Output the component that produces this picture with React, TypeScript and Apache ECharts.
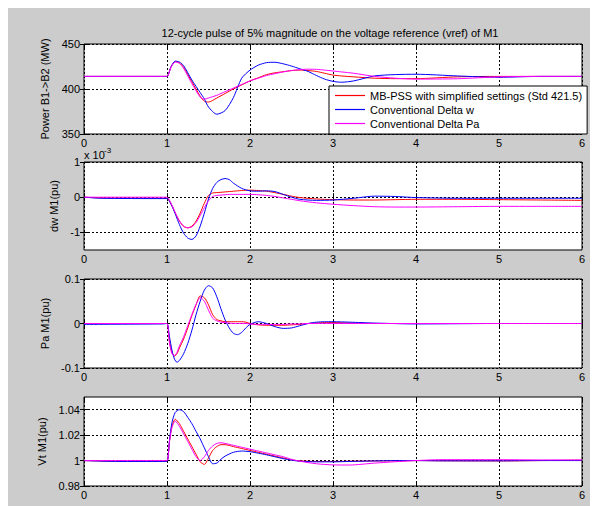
import React, { useEffect, useRef } from "react";
import * as echarts from "echarts";

const TITLE = "12-cycle pulse of 5% magnitude on the voltage reference (vref) of M1";
const SERIES_NAMES = [
  "MB-PSS with simplified settings (Std 421.5)",
  "Conventional Delta w",
  "Conventional Delta Pa",
];
const COLORS = ["#ff0000", "#0000ff", "#ff00ff"];
const Y_NAMES = ["Power B1->B2 (MW)", "dw M1(pu)", "Pa M1(pu)", "Vt M1(pu)"];
const X_MIN = 0;
const X_MAX = 6;
const X_INTERVAL = 1;

// Plot 1: Power B1->B2 (MW)
const T_POWER = [0, 0.95, 1.0, 1.05, 1.1, 1.15, 1.2, 1.3, 1.4, 1.45, 1.5, 1.6, 1.7, 1.8, 1.9, 2.0, 2.1, 2.2, 2.3, 2.4, 2.5, 2.6, 2.7, 2.8, 2.9, 3.0, 3.1, 3.25, 3.5, 3.75, 4.0, 4.5, 5.0, 5.5, 6.0];
const POWER_MBPSS = [414, 414, 414, 425, 430.5, 429, 424, 408, 392, 386.5, 385.5, 390, 395, 400, 404.5, 409, 412.5, 416, 418, 419.2, 420.5, 421, 420.5, 419.5, 417.5, 415.5, 414.5, 413.5, 412, 411.5, 411.5, 413.5, 414, 414, 414];
const POWER_DW = [414, 414, 414, 425, 431, 430, 426, 410, 396, 389, 380, 372, 376, 390.5, 412, 421, 426.5, 429.3, 429.7, 428, 425.5, 422.5, 419.5, 415, 411, 408.5, 407.5, 409, 414.5, 416, 416.4, 414.5, 413, 414, 414];
const POWER_DPA = [414, 414, 414, 424.5, 430, 428.5, 423, 406, 391, 388.7, 390, 393, 397, 401, 405, 409, 412, 415, 417, 419, 420.5, 421.5, 422, 421.8, 421, 420, 419, 417.5, 414, 412, 411, 411.4, 413.5, 414, 414];
const POWER_TICKS = [350, 400, 450];

// Plot 2: dw M1 (x 10^-3 pu)
const T_DW = [0, 0.2, 0.95, 1.0, 1.05, 1.1, 1.15, 1.2, 1.25, 1.3, 1.35, 1.4, 1.45, 1.5, 1.55, 1.6, 1.65, 1.7, 1.75, 1.8, 1.9, 2.0, 2.1, 2.2, 2.3, 2.4, 2.5, 2.6, 2.8, 3.0, 3.25, 3.5, 3.75, 4.0, 4.5, 5.0, 5.5, 6.0];
const DW_MBPSS = [0, -0.02, -0.03, -0.03, -0.2, -0.45, -0.68, -0.83, -0.87, -0.82, -0.68, -0.45, -0.17, 0.05, 0.12, 0.13, 0.14, 0.15, 0.16, 0.17, 0.19, 0.2, 0.19, 0.17, 0.13, 0.08, 0.03, -0.01, -0.05, -0.07, -0.08, -0.08, -0.07, -0.06, -0.06, -0.07, -0.08, -0.09];
const DW_DW = [0, -0.03, -0.04, -0.04, -0.2, -0.48, -0.78, -1.02, -1.16, -1.2, -1.1, -0.82, -0.45, -0.05, 0.25, 0.42, 0.5, 0.53, 0.5, 0.4, 0.25, 0.18, 0.17, 0.18, 0.16, 0.08, 0, -0.06, -0.09, -0.08, -0.03, 0.03, 0.02, -0.01, -0.03, -0.03, -0.03, -0.03];
const DW_DPA = [0, 0, 0, 0, -0.18, -0.44, -0.67, -0.82, -0.87, -0.84, -0.72, -0.52, -0.3, -0.1, 0.02, 0.05, 0.06, 0.07, 0.08, 0.08, 0.08, 0.08, 0.07, 0.05, 0.02, -0.02, -0.06, -0.1, -0.16, -0.2, -0.24, -0.27, -0.28, -0.28, -0.27, -0.26, -0.26, -0.26];
const DW_TICKS = [-1, 0, 1];

// Plot 3: Pa M1 (pu)
const T_PA = [0, 0.95, 1.0, 1.03, 1.06, 1.09, 1.12, 1.15, 1.2, 1.25, 1.3, 1.35, 1.4, 1.45, 1.5, 1.55, 1.6, 1.65, 1.7, 1.75, 1.8, 1.85, 1.9, 1.95, 2.0, 2.1, 2.2, 2.3, 2.4, 2.5, 2.6, 2.7, 2.8, 2.9, 3.0, 3.2, 3.5, 4.0, 5.0, 6.0];
const PA_MBPSS = [0, 0, 0, -0.04, -0.065, -0.073, -0.068, -0.055, -0.035, -0.01, 0.018, 0.042, 0.062, 0.058, 0.042, 0.02, 0.009, 0.006, 0.004, 0.004, 0.004, 0.004, 0.004, 0.003, 0, -0.003, -0.004, -0.004, -0.004, -0.003, -0.002, 0, 0.001, 0.002, 0.002, 0.001, 0, 0, 0, 0];
const PA_DW = [-0.002, -0.001, 0, -0.03, -0.06, -0.08, -0.087, -0.083, -0.068, -0.045, -0.015, 0.02, 0.05, 0.075, 0.085, 0.08, 0.06, 0.033, 0.008, -0.01, -0.022, -0.025, -0.02, -0.01, -0.002, 0.004, 0, -0.007, -0.011, -0.01, -0.005, 0, 0.003, 0.004, 0.004, 0.003, 0.001, -0.001, 0, 0];
const PA_DPA = [0, 0, 0, -0.045, -0.068, -0.072, -0.065, -0.05, -0.03, -0.005, 0.02, 0.043, 0.058, 0.05, 0.03, 0.012, 0.006, 0.003, 0.002, 0.001, 0, 0, 0, 0, -0.001, -0.002, -0.002, -0.002, -0.002, -0.001, -0.001, 0, 0, 0, 0, 0, 0, 0, 0, 0];
const PA_TICKS = [-0.1, 0, 0.1];

// Plot 4: Vt M1 (pu)
const T_VT = [0, 0.4, 0.95, 1.0, 1.03, 1.06, 1.1, 1.15, 1.2, 1.25, 1.3, 1.35, 1.4, 1.45, 1.5, 1.55, 1.6, 1.65, 1.7, 1.8, 1.9, 2.0, 2.1, 2.2, 2.3, 2.4, 2.5, 2.6, 2.8, 3.0, 3.2, 3.5, 3.8, 4.0, 4.3, 5.0, 5.5, 6.0];
const VT_MBPSS = [1.0, 0.9995, 0.9995, 0.9995, 1.015, 1.027, 1.0325, 1.029, 1.023, 1.017, 1.011, 1.005, 0.999, 0.997, 1.002, 1.008, 1.011, 1.0125, 1.0125, 1.011, 1.0095, 1.008, 1.0065, 1.005, 1.0035, 1.002, 1.0005, 0.9998, 0.9993, 0.9993, 0.9995, 0.9997, 0.9998, 1.0, 0.9998, 0.9997, 1.0, 1.0003];
const VT_DW = [1.0, 0.9993, 0.9993, 0.9993, 1.016, 1.03, 1.038, 1.04, 1.0385, 1.034, 1.029, 1.023, 1.017, 1.01, 1.003, 0.9975, 0.998, 1.001, 1.0035, 1.0065, 1.0075, 1.007, 1.0058, 1.0045, 1.003, 1.0015, 1.0003, 0.9995, 0.999, 0.999, 0.9993, 0.9997, 1.0, 1.0, 0.9998, 0.9998, 1.0, 1.0];
const VT_DPA = [1.0, 1.0, 1.0, 1.0, 1.015, 1.026, 1.031, 1.027, 1.021, 1.015, 1.009, 1.003, 1.0, 1.003, 1.008, 1.0115, 1.0135, 1.014, 1.0135, 1.012, 1.0105, 1.009, 1.0075, 1.006, 1.0045, 1.003, 1.001, 0.9995, 0.9975, 0.9966, 0.9965, 0.998, 0.9993, 1.0, 1.0007, 1.0007, 1.0005, 1.0005];
const VT_TICKS = [0.98, 1.0, 1.02, 1.04];

const PLOTS = [
  { t: T_POWER, ys: [POWER_MBPSS, POWER_DW, POWER_DPA], ticks: POWER_TICKS, min: 350, max: 450 },
  { t: T_DW, ys: [DW_MBPSS, DW_DW, DW_DPA], ticks: DW_TICKS, min: -1.5, max: 1 },
  { t: T_PA, ys: [PA_MBPSS, PA_DW, PA_DPA], ticks: PA_TICKS, min: -0.1, max: 0.1 },
  { t: T_VT, ys: [VT_MBPSS, VT_DW, VT_DPA], ticks: VT_TICKS, min: 0.98, max: 1.05 },
];

const FONT = "'Liberation Sans', Arial, Helvetica, sans-serif";
const GRID_TOPS = [36, 154, 271, 389];
const GRID_HEIGHTS = [90, 88, 89, 89];
const NAME_GAPS = [16, 13, 18, 19];
const LEGEND_ICON = "path://M0,0 L30,0 L30,1.2 L0,1.2 Z";

export default function App() {
  const ref = useRef<HTMLDivElement>(null);
  useEffect(() => {
    if (!ref.current) return;
    const chart = echarts.init(ref.current, undefined, { renderer: "svg" });
    const grids: any[] = [];
    const xAxes: any[] = [];
    const yAxes: any[] = [];
    const series: any[] = [];
    const topX: any[] = [];
    const rightY: any[] = [];
    PLOTS.forEach((p, i) => {
      grids.push({
        left: 76,
        right: 16,
        top: GRID_TOPS[i],
        height: GRID_HEIGHTS[i],
        show: true,
        backgroundColor: "#ffffff",
        borderColor: "#000000",
        borderWidth: 1,
        z: 0,
      });
      xAxes.push({
        type: "value",
        gridIndex: i,
        min: X_MIN,
        max: X_MAX,
        interval: X_INTERVAL,
        position: "bottom",
        axisLine: { show: false },
        axisTick: { show: true, inside: true, length: 4, lineStyle: { color: "#000" } },
        axisLabel: { fontSize: 11, color: "#000", margin: 3, fontFamily: FONT },
        splitLine: { show: true, lineStyle: { color: "#000", type: [2, 2], width: 1 } },
      });
      topX.push({
        type: "value",
        gridIndex: i,
        min: X_MIN,
        max: X_MAX,
        interval: X_INTERVAL,
        position: "top",
        axisLine: { show: false },
        axisTick: { show: true, inside: true, length: 4, lineStyle: { color: "#000" } },
        axisLabel: { show: false },
        splitLine: { show: false },
      });
      yAxes.push({
        type: "value",
        gridIndex: i,
        min: p.min,
        max: p.max,
        position: "left",
        axisLine: { show: false },
        axisTick: { show: true, inside: true, length: 4, lineStyle: { color: "#000" }, customValues: p.ticks },
        axisLabel: { fontSize: 11, color: "#000", margin: 4, fontFamily: FONT, customValues: p.ticks },
        splitLine: { show: true, lineStyle: { color: "#000", type: [2, 2], width: 1 } },
        name: Y_NAMES[i],
        nameLocation: "middle",
        nameGap: NAME_GAPS[i],
        nameTextStyle: { fontSize: 11, color: "#000", fontFamily: FONT },
      });
      rightY.push({
        type: "value",
        gridIndex: i,
        min: p.min,
        max: p.max,
        position: "right",
        axisLine: { show: false },
        axisTick: { show: true, inside: true, length: 4, lineStyle: { color: "#000" }, customValues: p.ticks },
        axisLabel: { show: false, customValues: p.ticks },
        splitLine: { show: false },
      });
      p.ys.forEach((vals, k) => {
        series.push({
          type: "line",
          name: SERIES_NAMES[k],
          xAxisIndex: i,
          yAxisIndex: i,
          data: p.t.map((t, j) => [t, vals[j]]),
          symbol: "none",
          smooth: 0.25,
          lineStyle: { width: 1, color: COLORS[k] },
          itemStyle: { color: COLORS[k] },
          z: 3 + k,
        });
      });
    });

    chart.setOption({
      animation: false,
      backgroundColor: "#cccccc",
      textStyle: { fontFamily: FONT },
      grid: grids,
      xAxis: [...xAxes, ...topX],
      yAxis: [...yAxes, ...rightY],
      legend: {
        data: SERIES_NAMES.map((name, k) => ({
          name,
          icon: LEGEND_ICON,
          itemStyle: { color: COLORS[k], borderColor: COLORS[k], borderWidth: 0, opacity: 1 },
          lineStyle: { color: COLORS[k], width: 0 },
        })),
        orient: "vertical",
        left: 321,
        top: 78,
        padding: [4, 5, 5, 6],
        itemGap: 3,
        itemWidth: 30,
        itemHeight: 11,
        backgroundColor: "#ffffff",
        borderColor: "#000000",
        borderWidth: 1,
        selectedMode: false,
        textStyle: { fontSize: 11, color: "#000", fontFamily: FONT },
        z: 10,
      },
      graphic: [
        {
          type: "text",
          x: 322,
          y: 25,
          style: { text: TITLE, fontSize: 11, fill: "#000", textAlign: "center", textVerticalAlign: "middle", fontFamily: FONT },
        },
        {
          type: "text",
          x: 76,
          y: 147,
          style: { text: "x 10", fontSize: 11, fill: "#000", textVerticalAlign: "middle", fontFamily: FONT },
        },
        {
          type: "text",
          x: 96,
          y: 142,
          style: { text: "-3", fontSize: 8, fill: "#000", textVerticalAlign: "middle", fontFamily: FONT },
        },
      ],
      series,
    });
    return () => chart.dispose();
  }, []);
  return <div ref={ref} style={{ width: 590, height: 498, background: "#cccccc" }} />;
}
